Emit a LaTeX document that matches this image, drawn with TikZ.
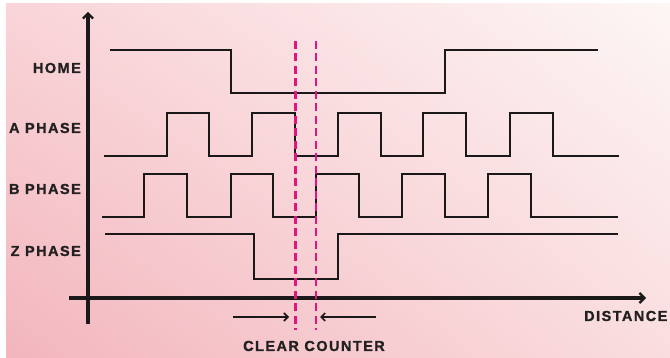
\documentclass[tikz,border=0pt]{standalone}
\usepackage{fontspec}
\newfontfamily\lblfont{Liberation Sans Bold}[LetterSpace=10, FakeBold=1.2]
\usetikzlibrary{arrows.meta,shadings}

\definecolor{bgLL}{HTML}{F2B6BD}
\definecolor{bgUL}{HTML}{F9D4D8}
\definecolor{bgUR}{HTML}{FDF6F5}
\definecolor{bgLR}{HTML}{FADDDF}
\definecolor{ink}{HTML}{1A1818}
\definecolor{txt}{HTML}{222020}
\definecolor{mark}{HTML}{E0157F}

\tikzset{
  signal/.style={draw=ink, line width=2.2pt, line join=miter},
  axis/.style={draw=ink, line width=3.4pt, -{Straight Barb[length=5pt,width=10pt,line width=2.2pt]}},
  marker/.style={draw=mark, line width=2.2pt, dash pattern=on 8pt off 4.5pt},
  pointer/.style={draw=ink, line width=1.8pt, -{Straight Barb[length=4pt,width=8pt,line width=1.6pt]}},
  lbl/.style={text=txt, inner sep=0pt, font=\fontsize{14.5}{16}\selectfont\lblfont},
}

\begin{document}
\begin{tikzpicture}[x=1pt, y=-1pt]
\useasboundingbox (0,0) rectangle (670,358);

% soft pink backdrop
\shade[lower left=bgLL, upper left=bgUL, upper right=bgUR, lower right=bgLR]
  (6,4) rectangle (670,358);

% axes
\coordinate (yb) at (88,324);
\coordinate (yt) at (88,12);
\coordinate (xl) at (69,298);
\coordinate (xr) at (646,298);
\draw[axis] (yb) -- (yt);
\draw[axis] (xl) -- (xr);

% waveforms
\draw[signal] (110,50) -- (231,50) -- (231,93) -- (445,93) -- (445,50) -- (598,50);

\draw[signal] (104,156) -- (167,156) -- (167,113) -- (209,113) -- (209,156)
  -- (252,156) -- (252,113) -- (295,113) -- (295,156)
  -- (338,156) -- (338,113) -- (381,113) -- (381,156)
  -- (423,156) -- (423,113) -- (466,113) -- (466,156)
  -- (510,156) -- (510,113) -- (553,113) -- (553,156) -- (619,156);

\draw[signal] (102,217) -- (144,217) -- (144,174) -- (187,174) -- (187,217)
  -- (231,217) -- (231,174) -- (273,174) -- (273,217)
  -- (316,217) -- (316,174) -- (359,174) -- (359,217)
  -- (402,217) -- (402,174) -- (445,174) -- (445,217)
  -- (488,217) -- (488,174) -- (531,174) -- (531,217) -- (618,217);

\draw[signal] (105,234) -- (254,234) -- (254,279) -- (338,279) -- (338,234) -- (618,234);

% clear-counter window
\coordinate (d1t) at (295.5,41);
\coordinate (d1b) at (295.5,330);
\coordinate (d2t) at (316,41);
\coordinate (d2b) at (316,330);
\draw[marker] (d1t) -- (d1b);
\draw[marker] (d2t) -- (d2b);

\coordinate (p1s) at (233,317);
\coordinate (p1e) at (289,317);
\coordinate (p2s) at (376,317);
\coordinate (p2e) at (320,317);
\draw[pointer] (p1s) -- (p1e);
\draw[pointer] (p2s) -- (p2e);

% labels
\node[lbl, anchor=east] (home) at (81,68) {HOME};
\node[lbl, anchor=east] (aph) at (81,128) {A PHASE};
\node[lbl, anchor=east] (bph) at (81,189) {B PHASE};
\node[lbl, anchor=east] (zph) at (81,251) {Z PHASE};
\node[lbl] (clr) at (314,346) {CLEAR COUNTER};
\node[lbl, anchor=west] (dist) at (584,316) {DISTANCE};
\end{tikzpicture}
\end{document}
